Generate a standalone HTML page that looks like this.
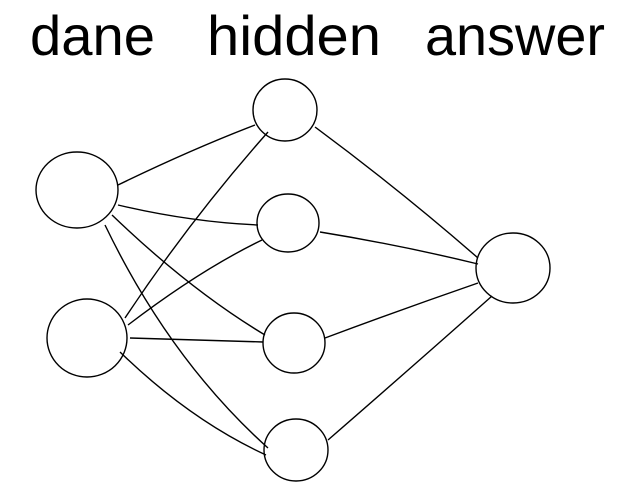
<!DOCTYPE html>
<html><head><style>html,body{margin:0;padding:0;background:#fff;}svg{display:block}</style></head>
<body>
<svg width="627" height="495" viewBox="0 0 627 495" xmlns="http://www.w3.org/2000/svg">
<g font-family="Liberation Sans, sans-serif" font-size="56" fill="#000">
<text x="30" y="55" textLength="125" lengthAdjust="spacingAndGlyphs">dane</text>
<text x="207" y="55" textLength="174" lengthAdjust="spacingAndGlyphs">hidden</text>
<text x="425" y="55" textLength="180" lengthAdjust="spacingAndGlyphs">answer</text>
</g>
<g fill="none" stroke="#000" stroke-width="1.4">
<ellipse cx="77" cy="190" rx="41" ry="38"/>
<ellipse cx="87" cy="338" rx="40" ry="39"/>
<ellipse cx="285" cy="110" rx="32" ry="31"/>
<ellipse cx="288" cy="223" rx="31" ry="29"/>
<ellipse cx="294" cy="343" rx="31" ry="30"/>
<ellipse cx="296" cy="450" rx="32" ry="31"/>
<ellipse cx="513" cy="268" rx="37" ry="35"/>
<path d="M118 185 Q190 150 255 125"/>
<path d="M118 205 Q190 222 258 225"/>
<path d="M112 215 Q190 290 265 335"/>
<path d="M105 225 Q170 360 268 448"/>
<path d="M125 318 Q190 220 268 132"/>
<path d="M128 325 Q200 270 262 240"/>
<path d="M130 338 L263 342"/>
<path d="M120 352 Q190 420 266 455"/>
<path d="M315 127 Q400 190 478 258"/>
<path d="M320 232 Q400 245 478 264"/>
<path d="M325 338 Q400 310 478 283"/>
<path d="M328 440 Q420 360 492 296"/>
</g>
</svg>
</body></html>
